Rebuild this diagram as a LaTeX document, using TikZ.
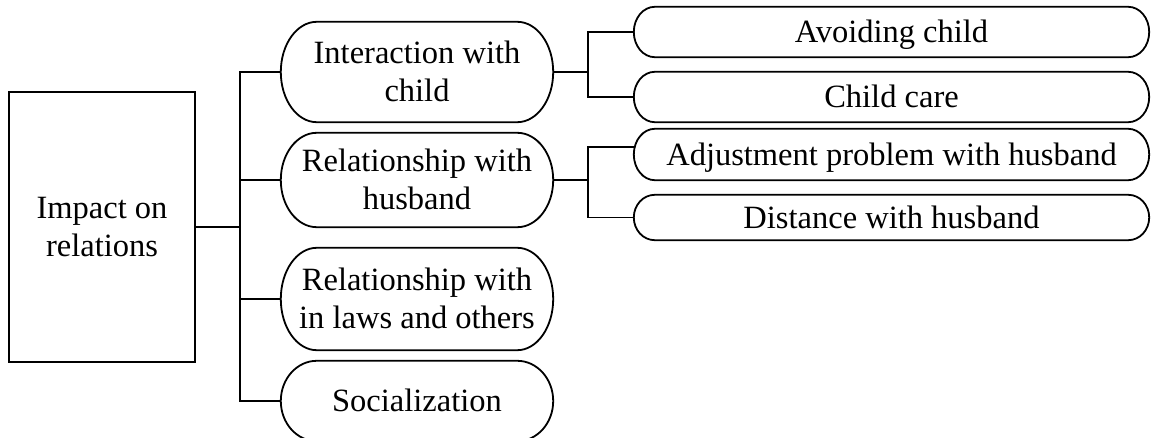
\documentclass[tikz,border=0pt]{standalone}
\usepackage{fontspec}
\setmainfont{Liberation Serif}
\usetikzlibrary{calc}
\begin{document}
\begin{tikzpicture}[x=1pt,y=-1pt,
  every node/.style={font=\fontsize{32.5}{38}\selectfont, align=center, inner sep=0pt,
    text height=21.5pt, text depth=0pt},
  twoline/.style={text height=59.5pt},
  box/.style={draw, line width=1.8pt, minimum width=186pt, minimum height=270pt},
  mid/.style={minimum width=272pt},
  leaf/.style={minimum width=515pt},
  link/.style={line width=1.8pt},
]
\useasboundingbox (0,0) rectangle (1151,438);

% root and categories
\node[box, twoline] (root) at (102,227) {Impact on\\relations};
\node[mid, twoline, minimum height=100pt] (m1) at (417,72) {Interaction with\\child};
\node[mid, twoline, minimum height=94pt] (m2) at (417,180) {Relationship with\\husband};
\node[mid, twoline, minimum height=102pt] (m3) at (417,299) {Relationship with\\in laws and others};
\node[mid, minimum height=80pt] (m4) at (417,401) {Socialization};

% sub-themes
\node[leaf, minimum height=50pt] (l1) at (891.5,32) {Avoiding child};
\node[leaf, minimum height=50pt] (l2) at (891.5,97) {Child care};
\node[leaf, minimum height=51pt] (l3) at (891.5,154.5) {Adjustment problem with husband};
\node[leaf, minimum height=45pt] (l4) at (891.5,217.5) {Distance with husband};

% pill outlines with elliptical ends
\foreach \nd/\rr in {m1/36,m2/36,m3/36,m4/36,l1/21,l2/21,l3/21,l4/21}{
  \draw[link] let \p1=(\nd.north west), \p2=(\nd.south east), \n1={(\y1-\y2)/2} in
    (\x1+\rr pt,\y1) -- (\x2-\rr pt,\y1)
    arc[start angle=90,end angle=-90,x radius=\rr pt,y radius=\n1]
    -- (\x1+\rr pt,\y2)
    arc[start angle=270,end angle=90,x radius=\rr pt,y radius=\n1]
    -- cycle;
}

% connectors
\coordinate (t) at (240,0);
\coordinate (b) at (588,0);
\draw[link] (root.east) -- (root.east -| t);
\draw[link] (m1.west) -| (t |- m4.west) -- (m4.west);
\draw[link] (m2.west) -- (m2.west -| t);
\draw[link] (m3.west) -- (m3.west -| t);

\draw[link] (m1.east) -- (m1.east -| b);
\draw[link] (l1.west) -| (b |- l2.west) -- (l2.west);
\draw[link] (m2.east) -- (m2.east -| b);
\draw[link] ([yshift=7.5pt]l3.west) -| (b |- l4.west) -- (l4.west);
\end{tikzpicture}
\end{document}
